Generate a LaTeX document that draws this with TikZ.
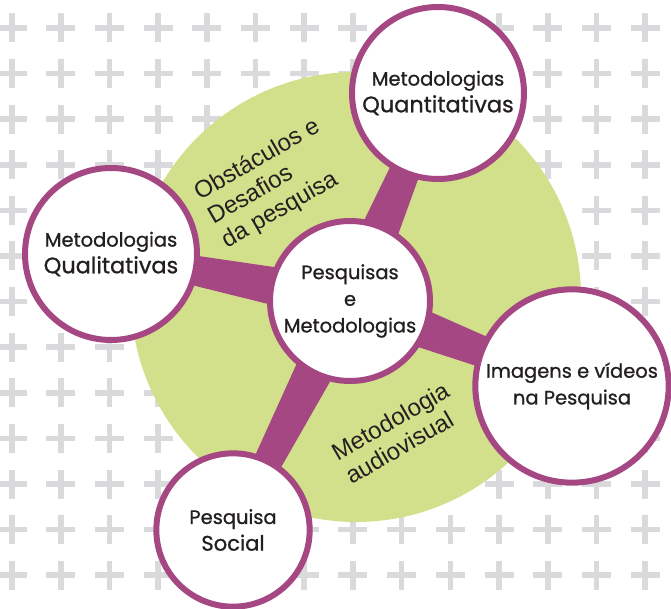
\documentclass[tikz,border=0pt]{standalone}
\usepackage{fontspec}
\setmainfont{Poppins}[FakeBold=0.9]
\newfontfamily\tagfont{Liberation Sans}
\usetikzlibrary{calc}

\pgfdeclarelayer{bg}
\pgfdeclarelayer{links}
\pgfsetlayers{bg,links,main}

\definecolor{leafgreen}{RGB}{211,224,139}
\definecolor{plum}{RGB}{164,71,130}
\definecolor{crossgray}{RGB}{218,218,220}
\definecolor{inkblack}{RGB}{35,31,32}

\begin{document}
\begin{tikzpicture}[x=0.75pt, y=-0.75pt,
  bubble/.style={circle, draw=plum, line width=4.5pt, fill=white, align=center, inner sep=0pt, text=inkblack, font=\fontsize{14.6}{20}\selectfont},
  tag/.style={font=\tagfont\fontsize{18}{20.5}\selectfont, align=left, text=inkblack, rotate=30}]
\useasboundingbox (0,0) rectangle (671,609);
% Cruzes e disco
\begin{pgfonlayer}{bg}
\foreach \i in {0,...,13} {
  \foreach \j in {-1,...,12} {
    \fill[crossgray] ({12+48.7*\i-14.5},{28+45.6*\j-2.8}) rectangle ++(29,5.6);
    \fill[crossgray] ({12+48.7*\i-2.8},{28+45.6*\j-14.5}) rectangle ++(5.6,29);
  }
}
\fill[leafgreen] (356,297) circle [radius=225];
\end{pgfonlayer}
% Bolhas
\node[bubble, minimum size=120pt] (hub) at (350,301) {Pesquisas\\e\\Metodologias};
\node[bubble, minimum size=129pt] (quant) at (438,93) {Metodologias\\{\fontsize{16.8}{20}\selectfont Quantitativas}};
\node[bubble, minimum size=129pt] (qual) at (111,254) {Metodologias\\{\fontsize{16.8}{20}\selectfont Qualitativas}};
\node[bubble, minimum size=145pt] (visual) at (572,386) {Imagens e vídeos\\na Pesquisa};
\node[bubble, minimum size=115pt] (social) at (233,530) {Pesquisa\\{\fontsize{15.8}{20}\selectfont Social}};
% Rótulos no disco
\node[tag] (obst) at (271,184) {Obstáculos e\\Desafios\\da pesquisa};
\node[tag] (audio) at (397,433) {Metodologia\\audiovisual};
% Ligações
\begin{pgfonlayer}{links}
\foreach \tip in {quant,qual,visual,social}
  \fill[plum] ($(hub.center)!17pt!90:(\tip.center)$) -- ($(\tip.center)!8pt!-90:(hub.center)$)
    -- ($(\tip.center)!8pt!90:(hub.center)$) -- ($(hub.center)!17pt!-90:(\tip.center)$) -- cycle;
\end{pgfonlayer}
\end{tikzpicture}
\end{document}
